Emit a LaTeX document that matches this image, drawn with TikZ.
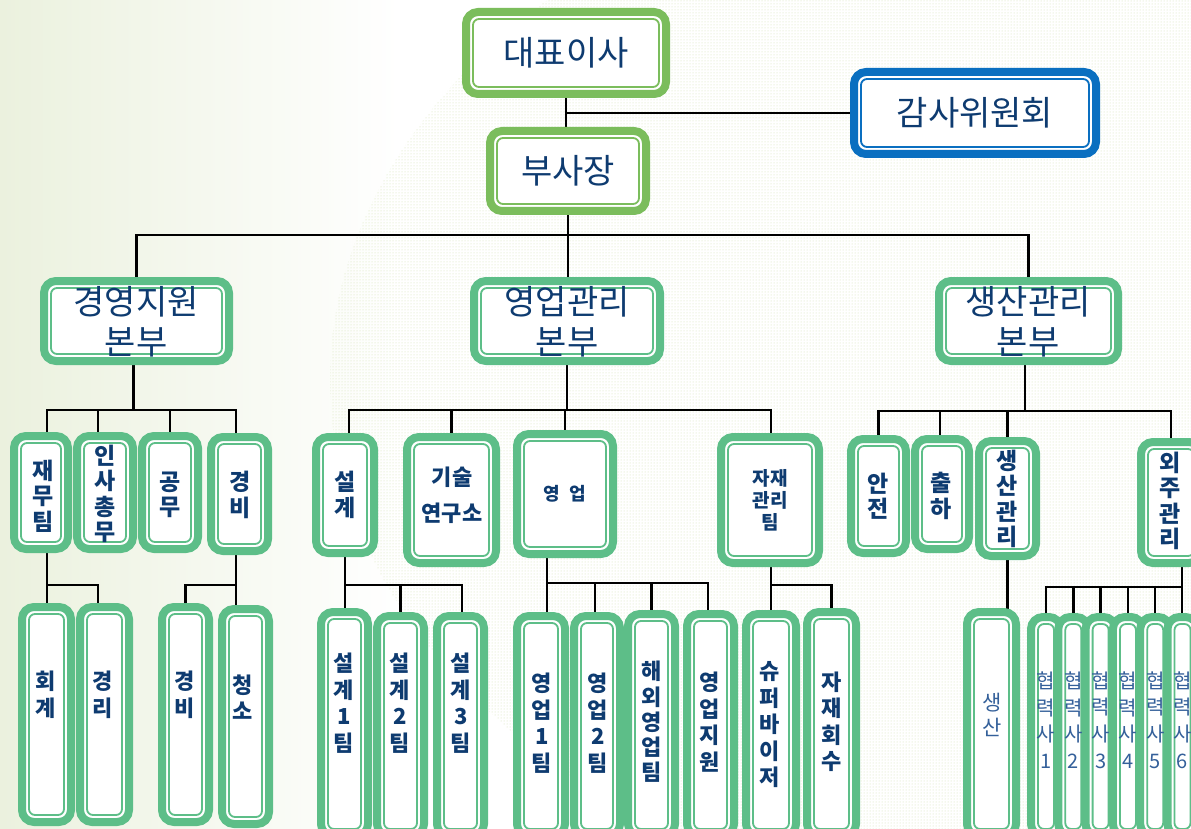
\documentclass[tikz,border=0pt]{standalone}
\usepackage{fontspec}
\setmainfont{Noto Sans CJK KR}
\usetikzlibrary{calc,patterns}
\definecolor{gT}{HTML}{7BBD5C}
\definecolor{gG}{HTML}{5DBE88}
\definecolor{bB}{HTML}{0A6FC0}
\definecolor{navy}{HTML}{0E3B70}
\definecolor{lnavy}{HTML}{34609A}
\definecolor{bgL}{HTML}{EBF1DE}
\definecolor{dotc}{HTML}{D2E2B2}
\pgfdeclarelayer{back}
\pgfdeclarelayer{lines}
\pgfsetlayers{back,lines,main}
\tikzset{
  box/.style={line width=8pt, fill=white, rounded corners=12pt, inner sep=0pt, outer sep=0pt},
  ln/.style={line width=2.5pt, black},
  tx/.style={text=navy, align=center, inner sep=0pt},
  big/.style={tx, font=\fontsize{34}{39.5}\selectfont},
  vt/.style={tx, font=\bfseries\fontsize{23}{25.5}\selectfont},
  vb/.style={tx, font=\bfseries\fontsize{22}{26.5}\selectfont},
  lt/.style={tx, text=lnavy, font=\fontsize{21}{26.5}\selectfont},
}
\newcommand\bx[6][gG]{%
  \node[box, draw=#1, minimum width={#5-#3-8}, minimum height={#6-#4-8}] (#2) at ({(#3+#5)/2},{(#4+#6)/2}) {};
  \draw[#1, line width=1.8pt, rounded corners=6pt] ($(#2.south west)+(7,-7)$) rectangle ($(#2.north east)+(-7,7)$);
}
\begin{document}
\begin{tikzpicture}[x=1pt,y=-1pt]
\useasboundingbox (0,0) rectangle (1191,829);
\clip (0,0) rectangle (1191,829);
\begin{pgfonlayer}{back}
  \fill[white] (0,0) rectangle (1191,829);
  \shade[left color=bgL, right color=white] (0,0) rectangle (400,829);
  \fill[pattern=dots, pattern color=dotc] (1150,380) ellipse [x radius=820, y radius=560];
\end{pgfonlayer}

% top
\bx[gT]{ceo}{462}{8}{670}{98}
\bx[bB]{aud}{850}{68}{1100}{158}
\bx[gT]{vp}{486}{127}{650}{215}
\node[big] (tceo) at (566,53) {대표이사};
\node[big] (taud) at (975,113) {감사위원회};
\node[big] (tvp) at (568,171) {부사장};

% level 2
\bx{d1}{40}{277}{233}{365}
\bx{d2}{470}{277}{664}{365}
\bx{d3}{935}{277}{1122}{365}
\node[big] (td1) at (136,322) {경영지원\\본부};
\node[big] (td2) at (567,322) {영업관리\\본부};
\node[big] (td3) at (1028,322) {생산관리\\본부};

% level 3 left
\bx{a1}{10}{432}{72}{553}
\bx{a2}{73}{432}{137}{553}
\bx{a3}{138}{432}{202}{553}
\bx{a4}{207}{433}{272}{555}
\node[vt] (ta1) at (43,496) {재\\무\\팀};
\node[vt] (ta2) at (105,494) {인\\사\\총\\무};
\node[vt] (ta3) at (170,495) {공\\무};
\node[vt] (ta4) at (240,495) {경\\비};

% level 4 left
\bx{b1}{18}{603}{75}{826}
\bx{b2}{76}{603}{133}{826}
\bx{b3}{158}{603}{213}{826}
\bx{b4}{218}{605}{273}{828}
\node[vb] (tb1) at (46,695) {회\\계};
\node[vb] (tb2) at (103,695) {경\\리};
\node[vb] (tb3) at (185,695) {경\\비};
\node[vb] (tb4) at (243,697) {청\\소};

% level 3 middle
\bx{c1}{312}{433}{378}{557}
\bx{c2}{403}{433}{500}{567}
\bx{c3}{513}{430}{617}{558}
\bx{c4}{717}{433}{823}{567}
\node[vt] (tc1) at (345,495) {설\\계};
\node[tx, font=\bfseries\fontsize{22}{36}\selectfont] (tc2) at (452,495) {기술\\연구소};
\node[tx, font=\bfseries\fontsize{18}{20}\selectfont] (tc3) at (565,494) {영\hspace{9pt}업};
\node[tx, font=\bfseries\fontsize{19}{22}\selectfont] (tc4) at (770,500) {자재\\관리\\팀};

% level 4 middle
\bx{e1}{317}{608}{372}{840}
\bx{e2}{373}{612}{428}{840}
\bx{e3}{433}{612}{488}{840}
\bx{f1}{513}{612}{569}{840}
\bx{f2}{570}{612}{624}{840}
\bx{f3}{624}{610}{679}{840}
\bx{f4}{683}{610}{738}{840}
\bx{g1}{742}{610}{800}{840}
\bx{g2}{803}{608}{860}{840}
\node[vb] (te1) at (344,703) {설\\계\\1\\팀};
\node[vb] (te2) at (400,703) {설\\계\\2\\팀};
\node[vb] (te3) at (461,703) {설\\계\\3\\팀};
\node[vb] (tf1) at (542,723) {영\\업\\1\\팀};
\node[vb] (tf2) at (598,723) {영\\업\\2\\팀};
\node[tx, font=\bfseries\fontsize{22}{25.3}\selectfont] (tf3) at (652,722) {해\\외\\영\\업\\팀};
\node[vb] (tf4) at (710,722) {영\\업\\지\\원};
\node[vb] (tg1) at (770,725) {슈\\퍼\\바\\이\\저};
\node[vb] (tg2) at (832,722) {자\\재\\회\\수};

% level 3 right
\bx{h1}{847}{435}{910}{557}
\bx{h2}{911}{435}{973}{553}
\bx{h3}{975}{437}{1040}{560}
\bx{h4}{1137}{438}{1205}{567}
\node[vt] (th1) at (878,496) {안\\전};
\node[vt] (th2) at (941,496) {출\\하};
\node[vt] (th3) at (1007,499) {생\\산\\관\\리};
\node[vt] (th4) at (1170,501) {외\\주\\관\\리};

% level 4 right
\bx{i1}{963}{608}{1020}{840}
\node[lt, font=\fontsize{21}{25}\selectfont] (ti1) at (992,715) {생\\산};
\foreach \k in {1,...,6} {
  \pgfmathsetmacro\xa{1027+27.3*(\k-1)}
  \pgfmathsetmacro\xb{\xa+38}
  \bx{j\k}{\xa}{613}{\xb}{840}
}
\foreach \k in {1,...,6} {
  \node[lt, font=\fontsize{20}{26.7}\selectfont] (tj\k) at ($(j\k.north)+(0,103)$) {협\\력\\사\\\k};
}

% connectors
\begin{pgfonlayer}{lines}
  \draw[ln] (ceo.south) -- (ceo.south |- vp.north);
  \draw[ln] (ceo.south |- aud.west) -- (aud.west);
  \draw[ln] (vp.south) -- ++(0,24) coordinate (bus2);
  \draw[ln] (d1.north) |- (bus2) -| (d3.north);
  \draw[ln] (bus2) -- (bus2 |- d2.north);
  % left
  \draw[ln] ([xshift=-3pt]d1.south) -- ++(0,49);
  \draw[ln] ([xshift=6pt]a1.north) -- ++(0,-26) -| ([xshift=-3.5pt]a4.north);
  \draw[ln] ([xshift=-7pt]a2.north) -- ++(0,-26);
  \draw[ln] (a3.north) -- ++(0,-26);
  \draw[ln] ([xshift=6pt]a1.south) -- ++(0,58);
  \draw[ln] ([xshift=6pt]a1.south) ++(0,36) -| ([xshift=-6.5pt]b2.north);
  \draw[ln] ([xshift=-3.5pt]a4.south) -- ++(0,58);
  \draw[ln] ([xshift=-3.5pt]a4.south) ++(0,34) -| (b3.north);
  % middle
  \draw[ln] (d2.south) -- ++(0,49);
  \draw[ln] ([xshift=4pt]c1.north) -- ++(0,-27) -| ([xshift=1pt]c4.north);
  \draw[ln] (c2.north) -- ++(0,-27);
  \draw[ln] (c3.north) -- ++(0,-24);
  \draw[ln] (c1.south) -- ++(0,59);
  \draw[ln] (c1.south) ++(0,32) -| ([xshift=1.5pt]e3.north);
  \draw[ln] (e2.north) -- ++(0,-31);
  \draw[ln] ([xshift=-18pt]c3.south) -- ++(0,62);
  \draw[ln] ([xshift=-18pt]c3.south) ++(0,29) -| ([xshift=-2.5pt]f4.north);
  \draw[ln] ([xshift=-2pt]f2.north) -- ++(0,-33);
  \draw[ln] (f3.north) -- ++(0,-31);
  \draw[ln] ([xshift=1pt]c4.south) -- ++(0,51);
  \draw[ln] ([xshift=1pt]c4.south) ++(0,22) -| (g2.north);
  % right
  \draw[ln] ([xshift=-3.5pt]d3.south) -- ++(0,50);
  \draw[ln] (h1.north) -- ++(0,-28) -| (h4.north);
  \draw[ln] ([xshift=-2pt]h2.north) -- ++(0,-28);
  \draw[ln] (h3.north) -- ++(0,-30);
  \draw[ln] (h3.south) -- (h3.south |- i1.north);
  \draw[ln] ([xshift=11pt]h4.south) -- ++(0,54);
  \draw[ln] ([xshift=11pt]h4.south) ++(0,24) -| (j1.north);
  \foreach \k in {2,...,5} { \draw[ln] (j\k.north) -- ++(0,-30); }
\end{pgfonlayer}
\end{tikzpicture}
\end{document}
